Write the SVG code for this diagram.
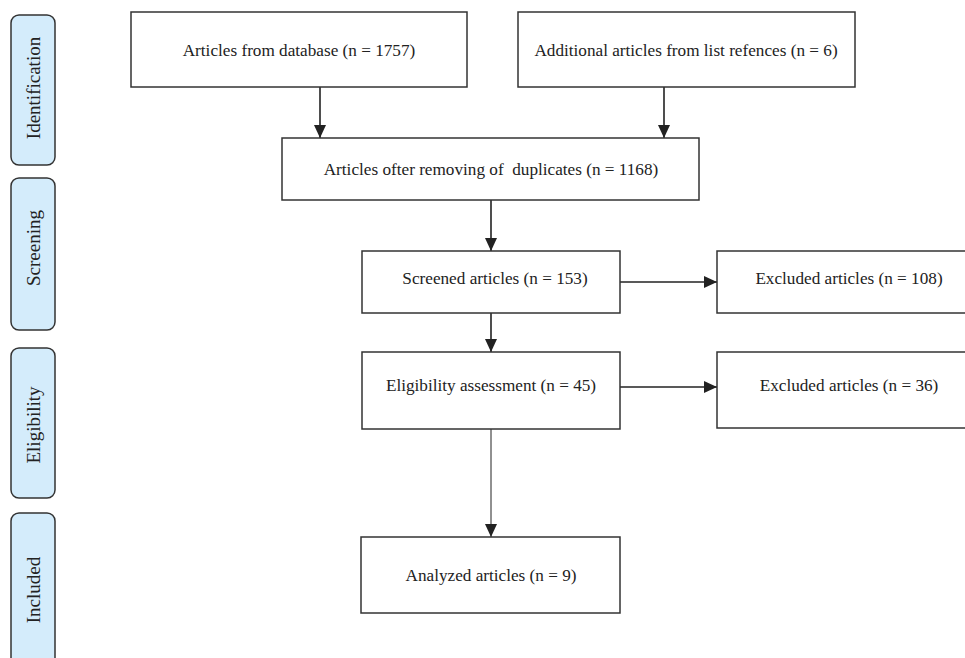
<svg xmlns="http://www.w3.org/2000/svg" width="965" height="658" viewBox="0 0 965 658">
<style>
.tab{fill:#d4ecfb;stroke:#333;stroke-width:1.5}
.box{fill:#fff;stroke:#333;stroke-width:1.5}
.t{font-family:"Liberation Serif","Times New Roman",serif;font-size:17.2px;fill:#222;text-anchor:middle}
.s{font-family:"Liberation Serif","Times New Roman",serif;font-size:19px;fill:#222;text-anchor:middle}
.c{stroke:#222;stroke-width:1.6;fill:none}
.thin{stroke:#222;stroke-width:1;fill:none}
</style>
<defs>
<marker id="ah" markerUnits="userSpaceOnUse" markerWidth="14" markerHeight="14" viewBox="0 0 14 14" refX="13" refY="7" orient="auto">
<path d="M0,1 L13,7 L0,13 Z" fill="#222"/>
</marker>
</defs>
<rect width="965" height="658" fill="#fff"/>
<g id="tab-identification"><rect class="tab" x="11" y="15" width="44" height="150" rx="8"/><text class="s" transform="translate(39.5,88) rotate(-90)">Identification</text></g>
<g id="tab-screening"><rect class="tab" x="11" y="178" width="44" height="152" rx="8"/><text class="s" transform="translate(39.5,248) rotate(-90)">Screening</text></g>
<g id="tab-eligibility"><rect class="tab" x="11" y="348" width="44" height="150" rx="8"/><text class="s" transform="translate(39.5,425) rotate(-90)">Eligibility</text></g>
<g id="tab-included"><rect class="tab" x="11" y="513" width="44" height="160" rx="8"/><text class="s" transform="translate(39.5,590) rotate(-90)">Included</text></g>
<g id="connectors">
<line class="c" x1="320" y1="87" x2="320" y2="138" marker-end="url(#ah)"/>
<line class="c" x1="664" y1="87" x2="664" y2="138" marker-end="url(#ah)"/>
<line class="c" x1="491" y1="200" x2="491" y2="251" marker-end="url(#ah)"/>
<line class="c" x1="620" y1="282" x2="717" y2="282" marker-end="url(#ah)"/>
<line class="c" x1="491" y1="313" x2="491" y2="352" marker-end="url(#ah)"/>
<line class="c" x1="620" y1="387" x2="717" y2="387" marker-end="url(#ah)"/>
<line class="thin" x1="491" y1="429" x2="491" y2="537" marker-end="url(#ah)"/>
</g>
<g id="n-database"><rect class="box" x="131" y="12" width="336" height="75"/><text class="t" x="299" y="56">Articles from database (n = 1757)</text></g>
<g id="n-additional"><rect class="box" x="518" y="12" width="337" height="75"/><text class="t" x="686" y="56">Additional articles from list refences (n = 6)</text></g>
<g id="n-duplicates"><rect class="box" x="282" y="138" width="417" height="62"/><text class="t" x="491" y="175" xml:space="preserve">Articles ofter removing of  duplicates (n = 1168)</text></g>
<g id="n-screened"><rect class="box" x="362" y="251" width="258" height="62"/><text class="t" x="495" y="284">Screened articles (n = 153)</text></g>
<g id="n-excluded1"><rect class="box" x="717" y="251" width="260" height="62"/><text class="t" x="849" y="284">Excluded articles (n = 108)</text></g>
<g id="n-eligibility"><rect class="box" x="362" y="352" width="258" height="77"/><text class="t" x="491" y="391">Eligibility assessment (n = 45)</text></g>
<g id="n-excluded2"><rect class="box" x="717" y="352" width="260" height="76"/><text class="t" x="849" y="391">Excluded articles (n = 36)</text></g>
<g id="n-analyzed"><rect class="box" x="361" y="537" width="259" height="76"/><text class="t" x="491" y="581">Analyzed articles (n = 9)</text></g>
</svg>
